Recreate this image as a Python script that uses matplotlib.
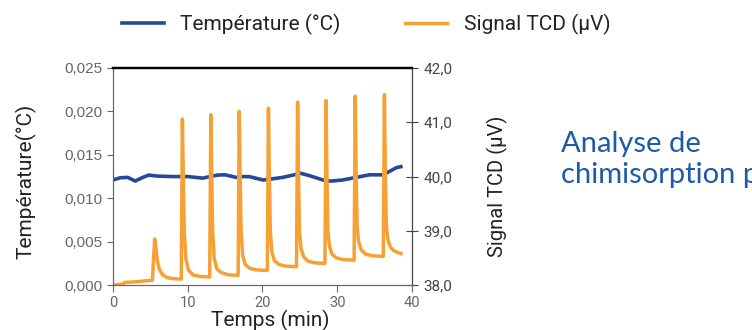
import matplotlib
matplotlib.use("Agg")
import matplotlib.pyplot as plt

# Température (axe gauche)
t_temp = [0, 1, 2, 3, 4, 4.8, 6, 8, 10, 12, 14, 15, 16.5, 17.5, 18.3, 20.1, 21, 22.7,
          24.5, 25, 26.3, 28.1, 29, 30.7, 32.5, 34.3, 36.1, 37, 37.9, 38.5]
temp = [0.0121, 0.01236, 0.0124, 0.01198, 0.0124, 0.01267, 0.01255, 0.0125, 0.0125,
        0.01232, 0.01267, 0.0127, 0.0124, 0.0125, 0.01248, 0.0121, 0.0122, 0.0124,
        0.01275, 0.0129, 0.0126, 0.0121, 0.01197, 0.0121, 0.0124, 0.0127, 0.0127,
        0.0131, 0.01352, 0.01364]

# Signal TCD (axe droit)
t_tcd = [0, 1.4, 1.6, 3.0, 5.3,
         5.45, 5.6, 5.75, 5.95, 6.2, 6.6, 7.2, 8.0, 9.15,
         9.3, 9.42, 9.55, 9.75, 10.1, 10.7, 11.6, 12.95,
         13.1, 13.22, 13.35, 13.55, 13.9, 14.5, 15.4, 16.75,
         16.9, 17.02, 17.15, 17.35, 17.7, 18.3, 19.2, 20.65,
         20.8, 20.92, 21.05, 21.25, 21.6, 22.2, 23.1, 24.55,
         24.7, 24.82, 24.95, 25.15, 25.5, 26.1, 27.0, 28.35,
         28.5, 28.62, 28.75, 28.95, 29.3, 29.9, 30.8, 32.25,
         32.4, 32.52, 32.65, 32.85, 33.2, 33.8, 34.7, 36.15,
         36.3, 36.42, 36.55, 36.75, 37.1, 37.6, 38.5]
tcd = [38.0, 38.02, 38.05, 38.06, 38.09,
       38.5, 38.85, 38.7, 38.45, 38.3, 38.2, 38.14, 38.12, 38.11,
       41.06, 40.0, 39.0, 38.5, 38.28, 38.19, 38.16, 38.15,
       41.14, 40.0, 39.0, 38.5, 38.3, 38.23, 38.19, 38.18,
       41.2, 40.0, 39.0, 38.55, 38.38, 38.31, 38.28, 38.27,
       41.26, 40.0, 39.0, 38.62, 38.45, 38.38, 38.35, 38.34,
       41.37, 40.0, 39.0, 38.68, 38.52, 38.44, 38.41, 38.40,
       41.40, 40.0, 39.0, 38.72, 38.57, 38.5, 38.47, 38.46,
       41.48, 40.1, 39.1, 38.8, 38.65, 38.57, 38.54, 38.53,
       41.51, 40.1, 39.1, 38.85, 38.7, 38.63, 38.58]

xticks = [0, 10, 20, 30, 40]
yticks_l = [0.0, 0.005, 0.010, 0.015, 0.020, 0.025]
yticks_r = [38.0, 39.0, 40.0, 41.0, 42.0]

blue = "#26489a"
orange = "#f7a033"
grey = "#555555"
dark = "#222222"

fig = plt.figure(figsize=(7.52, 3.30), dpi=100)
ax = fig.add_axes([0.150, 0.136, 0.398, 0.658])
ax2 = ax.twinx()

l1, = ax.plot(t_temp, temp, color=blue, lw=2.6, label="Température (°C)")
l2, = ax2.plot(t_tcd, tcd, color=orange, lw=2.5, label="Signal TCD (µV)")

ax.set_xlim(0, 40)
ax.set_ylim(0, 0.025)
ax2.set_ylim(38, 42)

ax.set_xticks(xticks)
ax.set_xticklabels([str(v) for v in xticks], fontsize=10.5, color=grey, family="Roboto")
ax.set_yticks(yticks_l)
ax.set_yticklabels([f"{v:.3f}".replace(".", ",") for v in yticks_l], fontsize=11,
                   color=grey, family="Liberation Sans")
ax2.set_yticks(yticks_r)
ax2.set_yticklabels([f"{v:.1f}".replace(".", ",") for v in yticks_r], fontsize=11,
                    color=grey, family="Roboto")

for a in (ax, ax2):
    a.spines["top"].set_color("black")
    a.spines["top"].set_linewidth(1.6)
    a.spines["left"].set_color("#666666")
    a.spines["bottom"].set_color("#666666")
    a.spines["right"].set_color("#444444")
ax.tick_params(axis="x", colors="#666666", length=5, pad=3)
ax.tick_params(axis="y", colors="#666666", length=4.5, pad=3)
ax2.tick_params(axis="y", colors="#444444", direction="inout", length=8, pad=4)

ax.set_xlabel("Temps (min)", fontsize=15, family="Roboto", color=dark)
ax.xaxis.set_label_coords(0.525, -0.115)
ax.set_ylabel("Température(°C)", fontsize=15, family="Roboto", color=dark)
ax.yaxis.set_label_coords(-0.255, 0.48)
ax2.set_ylabel("Signal TCD (µV)", fontsize=14.5, family="Roboto", color=dark)
ax2.yaxis.set_label_coords(1.251, 0.456)

fig.legend(handles=[l1, l2], loc="center", bbox_to_anchor=(0.487, 0.927), ncol=2,
           frameon=False, prop={"family": "Roboto", "size": 15}, handlelength=2.0,
           handletextpad=0.8, columnspacing=3.1, labelcolor=dark)

fig.text(0.746, 0.540, "Analyse de", fontsize=21, family="Lato", color="#1e5aa8",
         va="baseline", ha="left")
fig.text(0.746, 0.445, "chimisorption p", fontsize=21, family="Lato", color="#1e5aa8",
         va="baseline", ha="left")

fig.savefig("out.png", dpi=100)
